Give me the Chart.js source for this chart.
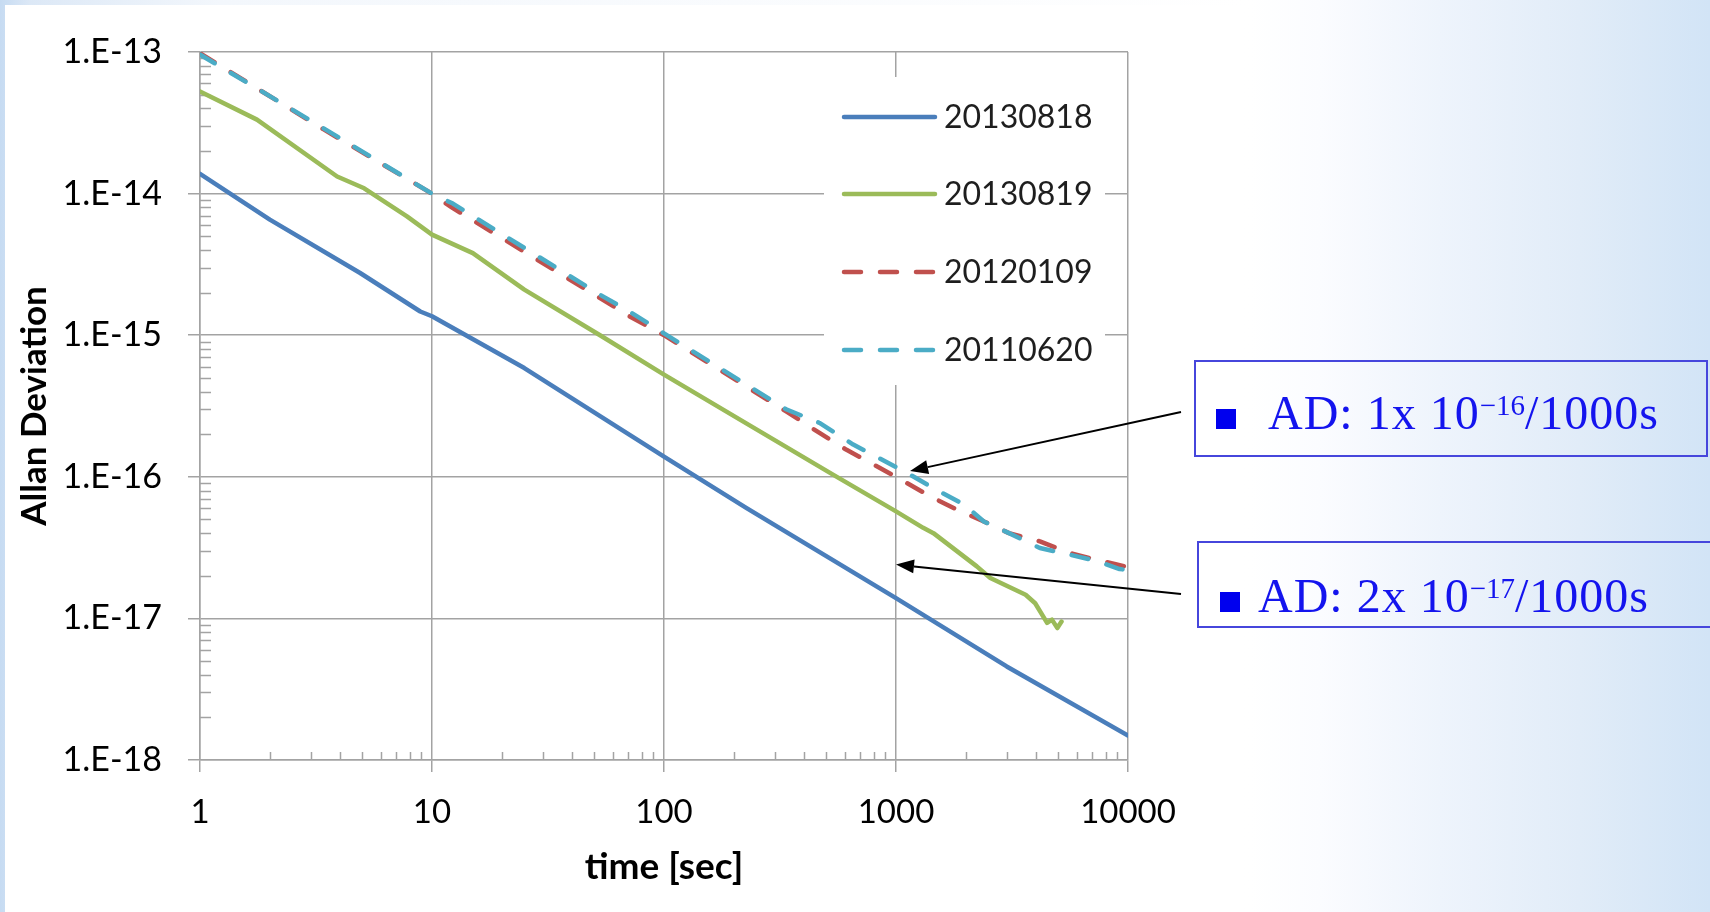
<!DOCTYPE html>
<html>
<head>
<meta charset="utf-8">
<title>Allan Deviation</title>
<script src="https://cdn.jsdelivr.net/npm/chart.js@4.4.1/dist/chart.umd.min.js"></script>
<style>
  html, body { margin: 0; padding: 0; width: 1710px; height: 912px; overflow: hidden; }
  body {
    background: linear-gradient(90deg, #c6dbf2 0px, #dce8f6 30px, #f3f7fc 220px, #ffffff 1250px,
                #fbfcff 1320px, #eef4fc 1440px, #e1ecf8 1580px, #d2e4f6 1710px);
  }
  #panel { position: absolute; left: 5px; top: 5px; width: 1238px; height: 907px; background: #ffffff; }
  #wrap { position: absolute; left: 0; top: 0; width: 1710px; height: 912px; }
  .note { position: absolute; border: 2px solid #4646dc; box-sizing: border-box; }
  .bullet { position: absolute; width: 20px; height: 20px; background: #0000ee; }
  .noteText {
    position: absolute; white-space: nowrap; line-height: 1;
    font-family: "Liberation Serif", "Times New Roman", serif; font-size: 48px;
    color: #1414ee; letter-spacing: 1px;
  }
  .noteText sup { font-size: 29px; vertical-align: baseline; position: relative; top: -14px; letter-spacing: 0; }
</style>
</head>
<body>
<div id="panel"></div>
<div id="wrap"><canvas id="chart" width="1710" height="912"></canvas></div>

<div class="note" style="left:1194px; top:360px; width:514px; height:97px;"></div>
<div class="bullet" style="left:1216px; top:409px;"></div>
<div class="noteText" style="left:1268px; top:389px;">AD: 1x 10<sup>−16</sup>/1000s</div>

<div class="note" style="left:1197px; top:541px; width:530px; height:87px;"></div>
<div class="bullet" style="left:1220px; top:592px;"></div>
<div class="noteText" style="left:1258px; top:572px;">AD: 2x 10<sup>−17</sup>/1000s</div>

<script>
// Averaging time (s) and Allan deviation for each measurement run
const tau20130818 = [1, 2, 4.9, 8.9, 10, 25, 100, 227, 1000, 3000, 10000];
const adev20130818 = [1.38e-14, 6.55e-15, 2.75e-15, 1.47e-15, 1.36e-15, 5.86e-16, 1.39e-16, 6.0e-17, 1.39e-17, 4.58e-18, 1.49e-18];

const tau20130819 = [1, 1.76, 3.9, 5.1, 7.8, 10, 15, 25, 53, 100, 240, 535, 1000, 1310, 1450, 2230, 2550, 3620, 3980, 4480, 4700, 4960, 5170];
const adev20130819 = [5.27e-14, 3.33e-14, 1.32e-14, 1.09e-14, 6.9e-15, 5.13e-15, 3.8e-15, 2.1e-15, 1.0e-15, 5.26e-16, 2.25e-16, 1.035e-16, 5.7e-17, 4.36e-17, 4.0e-17, 2.33e-17, 1.93e-17, 1.47e-17, 1.28e-17, 9.3e-18, 9.8e-18, 8.55e-18, 9.5e-18];

const tau20120109 = [1, 3.4, 9.5, 12.3, 53, 71, 100, 336, 468, 612, 1000, 1400, 1830, 2390, 3070, 4170, 5600, 7280, 10000];
const adev20120109 = [9.8e-14, 2.85e-14, 1.05e-14, 7.9e-15, 1.83e-15, 1.36e-15, 1.0e-15, 2.9e-16, 2.04e-16, 1.55e-16, 1.0e-16, 7.3e-17, 5.86e-17, 4.84e-17, 4.0e-17, 3.5e-17, 2.9e-17, 2.6e-17, 2.3e-17];

const tau20110620 = [1, 3.4, 10, 12.3, 53, 71, 100, 336, 468, 654, 1110, 1490, 1970, 2390, 3070, 4170, 5600, 7300, 9200, 10000];
const adev20110620 = [9.6e-14, 2.9e-14, 1.0e-14, 8.5e-15, 1.93e-15, 1.47e-15, 1.03e-15, 3.0e-16, 2.4e-16, 1.69e-16, 1.07e-16, 8.1e-17, 6.35e-17, 4.84e-17, 4.0e-17, 3.14e-17, 2.82e-17, 2.55e-17, 2.23e-17, 2.2e-17];

const seriesNames = ['20130818', '20130819', '20120109', '20110620'];

// Axis ticks
const xTickValues = [1, 10, 100, 1000, 10000];
const xTickLabels = ['1', '10', '100', '1000', '10000'];
const yTickValues = [1e-18, 1e-17, 1e-16, 1e-15, 1e-14, 1e-13];
const yTickLabels = ['1.E-18', '1.E-17', '1.E-16', '1.E-15', '1.E-14', '1.E-13'];

// Arrow targets (time, deviation) for the two callouts
const arrowTipTau = [1150, 1000];
const arrowTipAdev = [1.1e-16, 2.4e-17];
const arrowTails = [[1181, 412], [1181, 594]];

const pairs = (xs, ys) => xs.map((x, i) => ({ x: x, y: ys[i] }));

const GRID = '#a3a3a3';
const TEXT = '#000000';

const minorTicks = {
  id: 'minorTicks',
  beforeDatasetsDraw(chart) {
    const { ctx, scales: { x, y } } = chart;
    ctx.save();
    ctx.strokeStyle = GRID;
    ctx.lineWidth = 1.5;
    ctx.beginPath();
    for (let e = -18; e < -13; e++) {
      for (let m = 2; m <= 9; m++) {
        const py = Math.round(y.getPixelForValue(m * Math.pow(10, e))) + 0.5;
        ctx.moveTo(x.left, py);
        ctx.lineTo(x.left + 11, py);
      }
    }
    for (let e = 0; e < 4; e++) {
      for (let m = 2; m <= 9; m++) {
        const px = Math.round(x.getPixelForValue(m * Math.pow(10, e))) + 0.5;
        ctx.moveTo(px, y.bottom);
        ctx.lineTo(px, y.bottom - 8);
      }
    }
    ctx.stroke();
    ctx.restore();
  }
};

const boxLegend = {
  id: 'boxLegend',
  beforeDatasetsDraw(chart) {
    const ctx = chart.ctx;
    ctx.save();
    ctx.fillStyle = '#ffffff';
    ctx.fillRect(824, 77, 281, 308);
    const rows = [117, 194, 272, 350];
    chart.data.datasets.forEach((ds, i) => {
      const yy = rows[i];
      ctx.beginPath();
      ctx.strokeStyle = ds.borderColor;
      ctx.lineWidth = ds.borderWidth;
      ctx.lineCap = 'round';
      ctx.setLineDash(ds.borderDash || []);
      ctx.moveTo(844, yy);
      ctx.lineTo(935, yy);
      ctx.stroke();
      ctx.setLineDash([]);
      ctx.fillStyle = '#1e1e1e';
      ctx.font = '32px Lato';
      ctx.textBaseline = 'middle';
      ctx.textAlign = 'left';
      ctx.fillText(ds.label, 944, yy + 1);
    });
    ctx.restore();
  }
};

const arrows = {
  id: 'arrows',
  afterDraw(chart) {
    const { ctx, scales: { x, y } } = chart;
    ctx.save();
    ctx.strokeStyle = '#000';
    ctx.fillStyle = '#000';
    ctx.lineWidth = 2;
    arrowTipTau.forEach((t, i) => {
      const tx = x.getPixelForValue(t);
      const ty = y.getPixelForValue(arrowTipAdev[i]);
      const [sx, sy] = arrowTails[i];
      const ang = Math.atan2(ty - sy, tx - sx);
      const len = 18, half = 7;
      const bx = tx - len * Math.cos(ang), by = ty - len * Math.sin(ang);
      ctx.beginPath();
      ctx.moveTo(sx, sy);
      ctx.lineTo(bx, by);
      ctx.stroke();
      ctx.beginPath();
      ctx.moveTo(tx, ty);
      ctx.lineTo(bx + half * Math.sin(ang), by - half * Math.cos(ang));
      ctx.lineTo(bx - half * Math.sin(ang), by + half * Math.cos(ang));
      ctx.closePath();
      ctx.fill();
    });
    ctx.restore();
  }
};

const lineStyle = (color, dash) => ({
  borderColor: color,
  backgroundColor: color,
  borderWidth: 4.5,
  borderDash: dash,
  borderCapStyle: 'round',
  borderJoinStyle: 'round',
  pointRadius: 0,
  tension: 0,
  fill: false
});

new Chart(document.getElementById('chart'), {
  type: 'line',
  data: {
    datasets: [
      { label: seriesNames[0], data: pairs(tau20130818, adev20130818), order: 0, ...lineStyle('#4a7ebb', []) },
      { label: seriesNames[1], data: pairs(tau20130819, adev20130819), order: 1, ...lineStyle('#9bbb59', []) },
      { label: seriesNames[2], data: pairs(tau20120109, adev20120109), order: 3, ...lineStyle('#c0504d', [17, 19]) },
      { label: seriesNames[3], data: pairs(tau20110620, adev20110620), order: 2, ...lineStyle('#4bacc6', [17, 19]) }
    ]
  },
  options: {
    responsive: false,
    devicePixelRatio: 1,
    animation: false,
    layout: { padding: { left: 0, right: 582, top: 52, bottom: 0 } },
    plugins: { legend: { display: false }, tooltip: { enabled: false } },
    scales: {
      x: {
        type: 'logarithmic',
        position: 'bottom',
        min: 1,
        max: 10000,
        afterBuildTicks: (s) => { s.ticks = xTickValues.map(v => ({ value: v, major: true })); },
        afterFit: (s) => { s.height = 152; },
        grid: { color: GRID, lineWidth: 1.5, tickLength: 12, drawTicks: true },
        border: { color: GRID, width: 1.5 },
        ticks: {
          autoSkip: false, maxRotation: 0, padding: 21, color: TEXT,
          font: { family: 'Lato', size: 33 },
          callback: (v, i) => xTickLabels[i]
        },
        title: {
          display: true, text: 'time [sec]', color: TEXT,
          font: { family: 'Lato', size: 37, weight: 'bold' },
          padding: { top: 0, bottom: 23 }
        }
      },
      y: {
        type: 'logarithmic',
        position: 'left',
        min: 1e-18,
        max: 1e-13,
        afterBuildTicks: (s) => { s.ticks = yTickValues.map(v => ({ value: v, major: true })); },
        afterFit: (s) => { s.width = 200; },
        grid: { color: GRID, lineWidth: 1.5, tickLength: 12, drawTicks: true },
        border: { color: GRID, width: 1.5 },
        ticks: {
          autoSkip: false, padding: 26, color: TEXT,
          font: { family: 'Lato', size: 34 },
          callback: (v, i) => yTickLabels[i]
        },
        title: {
          display: true, text: 'Allan Deviation', color: TEXT,
          font: { family: 'Lato', size: 35, weight: 'bold' },
          padding: { top: 14, bottom: 0 }
        }
      }
    }
  },
  plugins: [minorTicks, boxLegend, arrows]
});
</script>
</body>
</html>
